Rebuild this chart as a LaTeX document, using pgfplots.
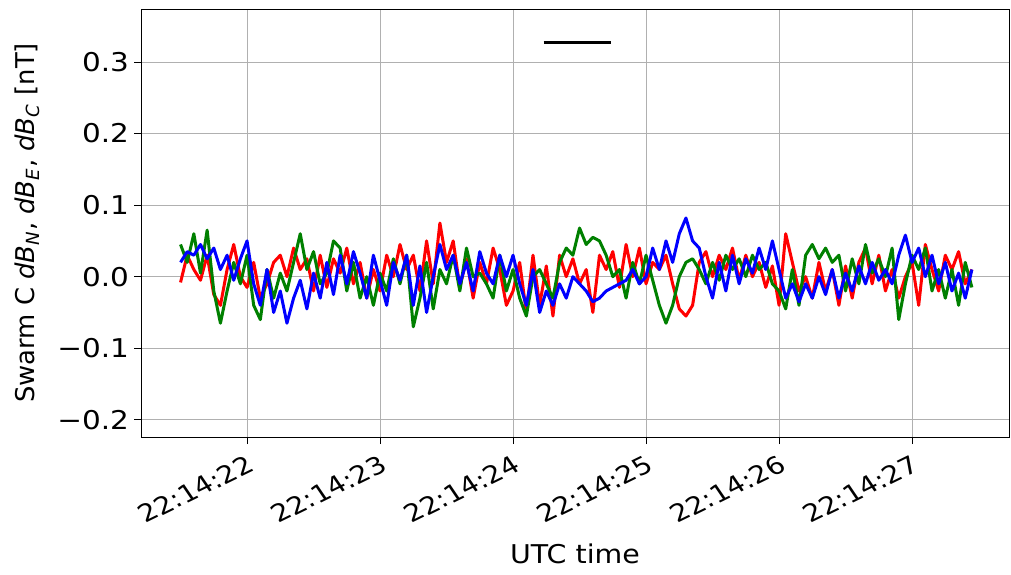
\documentclass[border=0pt]{standalone}
\usepackage{fontspec}
\setmainfont{DejaVu Sans}
\usepackage{pgfplots}
\usepackage{pgfplotstable}
\pgfplotsset{compat=1.18}

\pgfplotstableread{
t r g b
21.50 -0.008 0.045 0.020
21.55 0.030 0.020 0.035
21.60 0.010 0.060 0.030
21.65 -0.005 0.005 0.045
21.70 0.030 0.065 0.025
21.75 -0.025 -0.020 0.040
21.80 -0.040 -0.065 0.010
21.85 0.010 -0.020 0.030
21.90 0.045 0.020 -0.005
21.95 0.000 -0.010 0.025
22.00 -0.015 0.030 0.050
22.05 0.020 -0.040 -0.010
22.10 -0.030 -0.060 -0.040
22.15 -0.010 0.010 0.010
22.20 0.020 -0.030 -0.050
22.25 0.030 0.005 -0.020
22.30 0.000 -0.020 -0.065
22.35 0.040 0.020 -0.030
22.40 0.010 0.060 -0.005
22.45 0.025 0.010 -0.045
22.50 -0.020 0.035 0.005
22.55 0.030 -0.010 -0.030
22.60 -0.015 0.005 0.020
22.65 0.025 0.050 -0.025
22.70 0.005 0.040 0.030
22.75 0.040 -0.020 -0.010
22.80 -0.010 0.020 0.035
22.85 0.020 -0.030 0.005
22.90 -0.030 0.000 -0.030
22.95 0.010 -0.040 0.030
23.00 -0.020 0.005 -0.005
23.05 0.030 -0.020 -0.040
23.10 0.000 0.025 0.020
23.15 0.045 -0.010 -0.005
23.20 0.010 0.030 0.030
23.25 0.030 -0.070 -0.040
23.30 -0.020 -0.030 0.015
23.35 0.050 0.020 -0.050
23.40 -0.010 -0.045 0.000
23.45 0.075 0.010 0.045
23.50 0.020 -0.010 0.010
23.55 0.050 0.030 0.030
23.60 -0.015 -0.020 -0.010
23.65 0.025 0.040 0.020
23.70 -0.030 0.000 -0.020
23.75 0.020 0.005 0.035
23.80 -0.010 -0.010 0.005
23.85 0.040 -0.030 -0.010
23.90 0.010 0.030 0.030
23.95 -0.040 -0.020 0.000
24.00 -0.020 0.010 0.030
24.05 0.020 -0.030 -0.010
24.10 -0.050 -0.055 -0.040
24.15 0.030 0.000 0.010
24.20 -0.040 0.010 -0.050
24.25 0.015 -0.010 -0.020
24.30 -0.055 -0.030 -0.040
24.35 0.030 0.020 -0.010
24.40 0.000 0.040 -0.030
24.45 0.025 0.030 0.000
24.50 -0.010 0.068 -0.010
24.55 0.010 0.045 -0.020
24.60 -0.050 0.055 -0.035
24.65 0.030 0.050 -0.030
24.70 0.010 0.030 -0.020
24.75 0.035 0.000 -0.015
24.80 -0.015 0.010 -0.010
24.85 0.045 -0.030 -0.005
24.90 0.000 0.020 0.010
24.95 0.040 -0.010 -0.010
25.00 -0.010 0.030 0.000
25.05 0.020 -0.005 0.040
25.10 0.010 -0.040 0.010
25.15 0.030 -0.065 0.050
25.20 -0.010 -0.040 0.020
25.25 -0.045 0.000 0.060
25.30 -0.055 0.020 0.082
25.35 -0.040 0.025 0.050
25.40 0.020 0.010 0.040
25.45 0.035 -0.010 0.000
25.50 0.000 0.020 -0.030
25.55 0.030 -0.005 0.020
25.60 0.010 0.030 -0.020
25.65 0.040 0.010 0.030
25.70 -0.005 0.025 -0.010
25.75 0.030 0.000 0.025
25.80 0.000 0.030 0.005
25.85 0.020 0.010 0.040
25.90 -0.015 0.020 0.010
25.95 0.015 -0.010 0.050
26.00 -0.040 -0.020 0.010
26.05 0.060 -0.045 -0.030
26.10 0.020 0.010 -0.010
26.15 -0.020 -0.040 -0.035
26.20 0.000 0.030 -0.010
26.25 -0.030 0.045 -0.030
26.30 0.020 0.025 0.000
26.35 -0.020 0.040 -0.025
26.40 0.010 0.020 0.010
26.45 -0.040 0.030 -0.030
26.50 0.015 -0.020 0.005
26.55 -0.030 0.025 -0.020
26.60 0.020 -0.010 0.015
26.65 0.040 0.045 -0.010
26.70 -0.010 0.005 0.020
26.75 0.030 0.025 -0.005
26.80 -0.020 0.000 0.010
26.85 0.010 0.040 -0.010
26.90 -0.030 -0.060 0.030
26.95 0.000 -0.010 0.058
27.00 0.020 0.030 0.020
27.05 -0.040 0.010 0.040
27.10 0.045 0.040 0.000
27.15 0.010 -0.020 0.030
27.20 -0.020 0.010 -0.010
27.25 0.030 -0.030 0.020
27.30 0.010 0.010 -0.020
27.35 0.035 -0.040 0.005
27.40 -0.010 0.020 -0.030
27.45 0.010 -0.015 0.010
}\dB

\begin{document}
\begin{tikzpicture}
\begin{axis}[
    width=433pt, height=213.5pt,
    scale only axis,
    xmin=21.203, xmax=27.729,
    ymin=-0.224, ymax=0.374,
    xtick={22,23,24,25,26,27},
    xticklabels={22:14:22,22:14:23,22:14:24,22:14:25,22:14:26,22:14:27},
    ytick={-0.2,-0.1,0,0.1,0.2,0.3},
    yticklabels={−0.2,−0.1,0.0,0.1,0.2,0.3},
    tick align=outside,
    major tick length=3.5pt,
    tick style={black, line width=0.4pt},
    xtick pos=bottom, ytick pos=left,
    grid=major,
    major grid style={color=black!31, line width=0.4pt},
    axis line style={black, line width=0.4pt},
    font=\fontsize{12.9}{15}\selectfont,
    yticklabel style={xscale=1.14, inner sep=2pt},
    xticklabel style={font=\fontsize{12}{14}\selectfont, xscale=1.18, rotate=30, anchor=north east, inner sep=1pt, xshift=-2pt, yshift=-3pt},
    xlabel style={xscale=1.1, yshift=-5pt},
    ylabel style={yshift=3pt},
    xlabel={UTC time},
    ylabel={Swarm C \textit{dB}\textsubscript{\textit{N}}, \textit{dB}\textsubscript{\textit{E}}, \textit{dB}\textsubscript{\textit{C}} [nT]},
    every axis plot/.append style={line width=1.5pt, line join=round},
]
\addplot[color=red, no markers] table[x=t, y=r] {\dB};
\addplot[color=green!50!black, no markers] table[x=t, y=g] {\dB};
\addplot[color=blue, no markers] table[x=t, y=b] {\dB};
\addplot[color=black, no markers] coordinates {(24.23,0.327) (24.74,0.327)};
\end{axis}
\path ([xshift=1pt, yshift=4.5pt]current axis.north east);
\path ([xshift=-4pt]current bounding box.west);
\path ([yshift=-2pt]current bounding box.south);
\end{tikzpicture}
\end{document}
